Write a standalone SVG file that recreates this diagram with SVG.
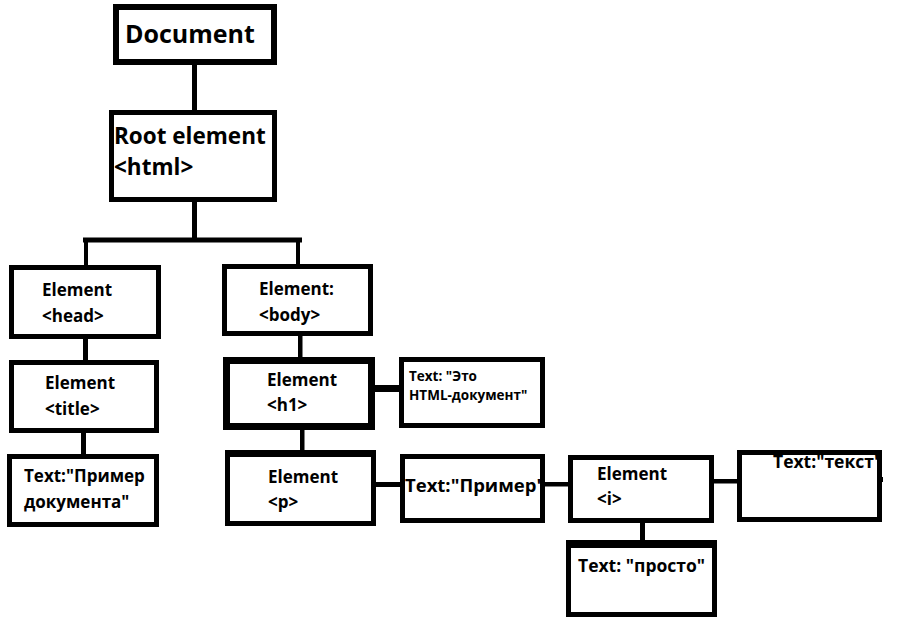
<svg xmlns="http://www.w3.org/2000/svg" width="899" height="627" viewBox="0 0 899 627">
<style>
.box{fill:#fff;stroke:#000;stroke-width:5}
.t{font-family:"Open Sans","Noto Sans","DejaVu Sans",sans-serif;font-weight:bold;fill:#000}
.f17{font-size:17px}
.c{fill:#000}
</style>
<rect width="899" height="627" fill="#fff"/>
<g id="connectors">
<rect class="c" x="192" y="64" width="5" height="48"/>
<rect class="c" x="192" y="201" width="5" height="40"/>
<rect class="c" x="83" y="237.5" width="219" height="5"/>
<rect class="c" x="84" y="240" width="4" height="27"/>
<rect class="c" x="296" y="240" width="4" height="26"/>
<rect class="c" x="83" y="338" width="5" height="24"/>
<rect class="c" x="81" y="432" width="5" height="24"/>
<rect class="c" x="298" y="335" width="4.5" height="24"/>
<rect class="c" x="300" y="429" width="4.5" height="23"/>
<rect class="c" x="374" y="385" width="26" height="7"/>
<rect class="c" x="375" y="482" width="26" height="5"/>
<rect class="c" x="544" y="482" width="25" height="4.5"/>
<rect class="c" x="713" y="479" width="25" height="4.5"/>
<rect class="c" x="640" y="522" width="5" height="20"/>
</g>
<g id="document">
<rect x="116" y="7" width="158" height="55" fill="#fff" stroke="#000" stroke-width="6"/>
<text class="t" x="125" y="43" font-size="25">Document</text>
</g>
<g id="root">
<rect class="box" x="111.5" y="112.5" width="163" height="87"/>
<text class="t" x="114" y="144" font-size="22.5">Root element</text>
<text class="t" x="114" y="175" font-size="22.5">&lt;html&gt;</text>
</g>
<g id="head">
<rect class="box" x="11.5" y="267.5" width="147" height="69"/>
<text class="t f17" x="42" y="296">Element</text>
<text class="t f17" x="42" y="322">&lt;head&gt;</text>
</g>
<g id="title">
<rect class="box" x="11.5" y="362.5" width="145" height="68"/>
<text class="t f17" x="45" y="389">Element</text>
<text class="t f17" x="45" y="415">&lt;title&gt;</text>
</g>
<g id="text-title">
<rect class="box" x="9.5" y="456.5" width="147" height="68"/>
<text class="t f17" x="24" y="482">Text:"Пример</text>
<text class="t f17" x="24" y="508">документа"</text>
</g>
<g id="body">
<rect class="box" x="224.5" y="266.5" width="146" height="67"/>
<rect class="c" x="368" y="293" width="2" height="3"/>
<text class="t f17" x="259" y="295">Element:</text>
<text class="t f17" x="259" y="321">&lt;body&gt;</text>
</g>
<g id="h1">
<rect x="226.5" y="360.5" width="145" height="66" fill="#fff" stroke="#000" stroke-width="7"/>
<text class="t f17" x="267" y="386">Element</text>
<text class="t f17" x="267" y="411">&lt;h1&gt;</text>
</g>
<g id="text-h1">
<rect class="box" x="401.5" y="359.5" width="141" height="66"/>
<text class="t" x="409" y="381" font-size="13.5">Text: "Это</text>
<text class="t" x="409" y="400" font-size="13.5">HTML-документ"</text>
</g>
<g id="p">
<rect class="box" x="227.5" y="453.5" width="146" height="70"/>
<rect class="c" x="225" y="450" width="151" height="7"/>
<text class="t f17" x="268" y="483">Element</text>
<text class="t f17" x="268" y="508">&lt;p&gt;</text>
</g>
<g id="text-p">
<rect class="box" x="402.5" y="456.5" width="140" height="64"/>
<text class="t" x="405" y="492" font-size="18.5">Text:"Пример"</text>
</g>
<g id="i">
<rect class="box" x="570.5" y="457.5" width="141" height="63"/>
<text class="t f17" x="597" y="480">Element</text>
<text class="t f17" x="597" y="505">&lt;i&gt;</text>
</g>
<g id="text-i">
<rect class="box" x="739.5" y="452.5" width="140" height="67"/>
<rect class="c" x="880" y="477" width="3" height="5"/>
<text class="t" x="773" y="468" font-size="17.5">Text:"текст"</text>
</g>
<g id="text-prosto">
<rect class="box" x="568.5" y="542.5" width="146" height="72"/>
<rect class="c" x="566" y="540" width="151" height="8"/>
<text class="t" x="578" y="572" font-size="17.5">Text: "просто"</text>
</g>
</svg>
